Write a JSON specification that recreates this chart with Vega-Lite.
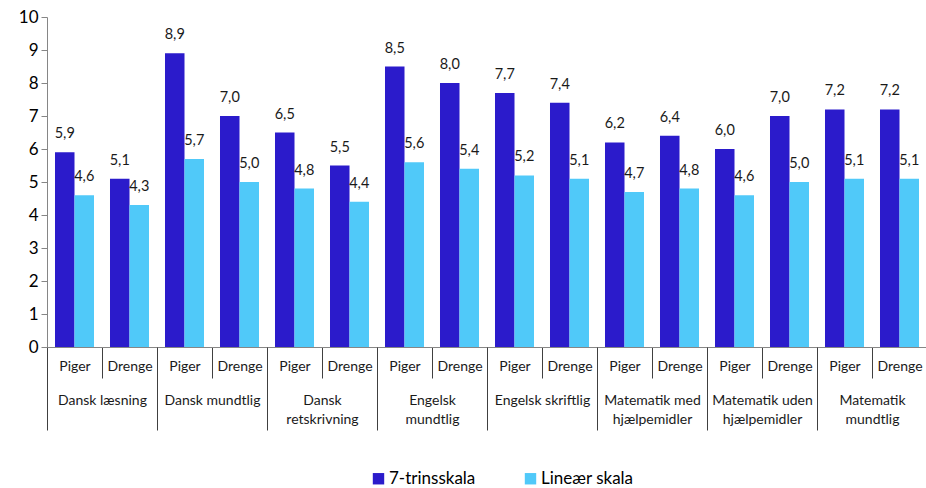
{
  "$schema": "https://vega.github.io/schema/vega-lite/v6.json",
  "width": 880,
  "height": 330,
  "autosize": {"type": "none"},
  "padding": {"left": 47, "top": 17, "right": 0, "bottom": 141},
  "config": {
    "view": {"stroke": null},
    "font": "Lato",
    "locale": {"number": {"decimal": ",", "thousands": ".", "grouping": [3], "currency": ["", " kr."]}},
    "axisY": {
      "title": null, "values": [0, 1, 2, 3, 4, 5, 6, 7, 8, 9, 10], "labelOverlap": false, "grid": false,
      "labelFontSize": 17, "labelColor": "#000000", "tickSize": 6, "labelPadding": 3,
      "tickColor": "#868686", "domainColor": "#868686"
    }
  },
  "data": {"values": [
    {"subject": "Dansk læsning", "key": "Dansk læsning: Piger", "series": "7-trinsskala", "value": 5.9},
    {"subject": "Dansk læsning", "key": "Dansk læsning: Piger", "series": "Lineær skala", "value": 4.6},
    {"subject": "Dansk læsning", "key": "Dansk læsning: Drenge", "series": "7-trinsskala", "value": 5.1},
    {"subject": "Dansk læsning", "key": "Dansk læsning: Drenge", "series": "Lineær skala", "value": 4.3},
    {"subject": "Dansk mundtlig", "key": "Dansk mundtlig: Piger", "series": "7-trinsskala", "value": 8.9},
    {"subject": "Dansk mundtlig", "key": "Dansk mundtlig: Piger", "series": "Lineær skala", "value": 5.7},
    {"subject": "Dansk mundtlig", "key": "Dansk mundtlig: Drenge", "series": "7-trinsskala", "value": 7.0},
    {"subject": "Dansk mundtlig", "key": "Dansk mundtlig: Drenge", "series": "Lineær skala", "value": 5.0},
    {"subject": "Dansk\nretskrivning", "key": "Dansk retskrivning: Piger", "series": "7-trinsskala", "value": 6.5},
    {"subject": "Dansk\nretskrivning", "key": "Dansk retskrivning: Piger", "series": "Lineær skala", "value": 4.8},
    {"subject": "Dansk\nretskrivning", "key": "Dansk retskrivning: Drenge", "series": "7-trinsskala", "value": 5.5},
    {"subject": "Dansk\nretskrivning", "key": "Dansk retskrivning: Drenge", "series": "Lineær skala", "value": 4.4},
    {"subject": "Engelsk\nmundtlig", "key": "Engelsk mundtlig: Piger", "series": "7-trinsskala", "value": 8.5},
    {"subject": "Engelsk\nmundtlig", "key": "Engelsk mundtlig: Piger", "series": "Lineær skala", "value": 5.6},
    {"subject": "Engelsk\nmundtlig", "key": "Engelsk mundtlig: Drenge", "series": "7-trinsskala", "value": 8.0},
    {"subject": "Engelsk\nmundtlig", "key": "Engelsk mundtlig: Drenge", "series": "Lineær skala", "value": 5.4},
    {"subject": "Engelsk skriftlig", "key": "Engelsk skriftlig: Piger", "series": "7-trinsskala", "value": 7.7},
    {"subject": "Engelsk skriftlig", "key": "Engelsk skriftlig: Piger", "series": "Lineær skala", "value": 5.2},
    {"subject": "Engelsk skriftlig", "key": "Engelsk skriftlig: Drenge", "series": "7-trinsskala", "value": 7.4},
    {"subject": "Engelsk skriftlig", "key": "Engelsk skriftlig: Drenge", "series": "Lineær skala", "value": 5.1},
    {"subject": "Matematik med\nhjælpemidler", "key": "Matematik med hjælpemidler: Piger", "series": "7-trinsskala", "value": 6.2},
    {"subject": "Matematik med\nhjælpemidler", "key": "Matematik med hjælpemidler: Piger", "series": "Lineær skala", "value": 4.7},
    {"subject": "Matematik med\nhjælpemidler", "key": "Matematik med hjælpemidler: Drenge", "series": "7-trinsskala", "value": 6.4},
    {"subject": "Matematik med\nhjælpemidler", "key": "Matematik med hjælpemidler: Drenge", "series": "Lineær skala", "value": 4.8},
    {"subject": "Matematik uden\nhjælpemidler", "key": "Matematik uden hjælpemidler: Piger", "series": "7-trinsskala", "value": 6.0},
    {"subject": "Matematik uden\nhjælpemidler", "key": "Matematik uden hjælpemidler: Piger", "series": "Lineær skala", "value": 4.6},
    {"subject": "Matematik uden\nhjælpemidler", "key": "Matematik uden hjælpemidler: Drenge", "series": "7-trinsskala", "value": 7.0},
    {"subject": "Matematik uden\nhjælpemidler", "key": "Matematik uden hjælpemidler: Drenge", "series": "Lineær skala", "value": 5.0},
    {"subject": "Matematik\nmundtlig", "key": "Matematik mundtlig: Piger", "series": "7-trinsskala", "value": 7.2},
    {"subject": "Matematik\nmundtlig", "key": "Matematik mundtlig: Piger", "series": "Lineær skala", "value": 5.1},
    {"subject": "Matematik\nmundtlig", "key": "Matematik mundtlig: Drenge", "series": "7-trinsskala", "value": 7.2},
    {"subject": "Matematik\nmundtlig", "key": "Matematik mundtlig: Drenge", "series": "Lineær skala", "value": 5.1}
  ]},
  "layer": [
    {
      "layer": [
        {
          "mark": {"type": "bar"},
          "encoding": {
            "x": {
              "field": "key", "type": "nominal", "sort": null,
              "scale": {"type": "band", "paddingInner": 0, "paddingOuter": 0},
              "axis": {
                "title": null, "orient": "bottom", "labelAngle": 0,
                "labelExpr": "split(datum.label, ': ')[1]",
                "tickBand": "extent", "tickSize": 31, "tickColor": "#404040",
                "domainColor": "#868686", "labelPadding": -19, "labelBaseline": "top",
                "labelFontSize": 14, "labelColor": "#1a1a1a"
              }
            },
            "xOffset": {"field": "series", "type": "nominal", "sort": null, "scale": {"paddingInner": 0, "paddingOuter": 0.41}},
            "y": {
              "field": "value", "type": "quantitative",
              "scale": {"domain": [0, 10]},
              "axis": {"values": [0, 1, 2, 3, 4, 5, 6, 7, 8, 9, 10], "format": "d"}
            },
            "color": {
              "field": "series", "type": "nominal", "sort": null,
              "scale": {"range": ["#2B1BCB", "#50C9F9"]},
              "legend": {
                "title": null, "orient": "none", "legendX": 323, "legendY": 453, "direction": "horizontal",
                "symbolType": "square", "symbolSize": 130, "labelFontSize": 17, "labelOffset": 2,
                "labelColor": "#000000", "columnPadding": 46, "symbolStrokeWidth": 0
              }
            }
          }
        },
        {
          "mark": {"type": "text", "baseline": "bottom", "dy": -11, "fontSize": 14.5, "color": "#1a1a1a"},
          "encoding": {
            "x": {"field": "key", "type": "nominal", "sort": null},
            "xOffset": {"field": "series", "type": "nominal", "sort": null},
            "y": {"field": "value", "type": "quantitative", "axis": {"values": [0, 1, 2, 3, 4, 5, 6, 7, 8, 9, 10], "format": "d"}},
            "text": {"field": "value", "type": "quantitative", "format": ".1f"}
          }
        }
      ]
    },
    {
      "mark": {"type": "bar", "opacity": 0},
      "encoding": {
        "x": {
          "field": "subject", "type": "nominal", "sort": null,
          "scale": {"type": "band", "paddingInner": 0, "paddingOuter": 0},
          "axis": {
            "title": null, "orient": "bottom", "labelAngle": 0, "domain": false,
            "labelExpr": "split(datum.label, '\\n')",
            "tickBand": "extent", "tickSize": 83, "tickColor": "#404040",
            "labelPadding": -37, "labelBaseline": "top", "labelLineHeight": 19,
            "labelFontSize": 14, "labelColor": "#1a1a1a"
          }
        }
      }
    }
  ],
  "resolve": {"scale": {"x": "independent"}}
}
